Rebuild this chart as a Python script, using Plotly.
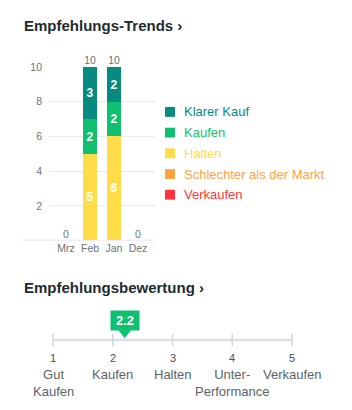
import plotly.graph_objects as go

months = ["Mrz", "Feb", "Jan", "Dez"]
series_names = ["Klarer Kauf", "Kaufen", "Halten", "Schlechter als der Markt", "Verkaufen"]
series_colors = ["#078a80", "#0fc070", "#ffdc48", "#ffa33f", "#ff333a"]
klarer_kauf = [0, 3, 2, 0]
kaufen = [0, 2, 2, 0]
halten = [0, 5, 6, 0]
schlechter = [0, 0, 0, 0]
verkaufen = [0, 0, 0, 0]
series_values = [klarer_kauf, kaufen, halten, schlechter, verkaufen]
totals = [sum(v) for v in zip(*series_values)]

rating_ticks = [1, 2, 3, 4, 5]
rating_labels = ["Gut<br>Kaufen", "Kaufen", "Halten", "Unter-<br>Performance", "Verkaufen"]
rating_value = 2.2

W, H = 352, 410
FONT = "Liberation Sans"
GRAY = "#6b737b"

fig = go.Figure()

# stacked bars, bottom to top
for name, color, vals in reversed(list(zip(series_names, series_colors, series_values))):
    fig.add_trace(go.Bar(
        x=months, y=vals, name=name, marker=dict(color=color, line=dict(width=0)),
        width=0.58,
        text=[f"<b>{v}</b>" if v > 0 else "" for v in vals],
        textposition="inside", insidetextanchor="middle", constraintext="none",
        textfont=dict(color="white", size=12, family=FONT),
        hoverinfo="skip", showlegend=False,
    ))

fig.add_trace(go.Scatter(
    x=months, y=totals, mode="text", text=[str(t) for t in totals],
    textposition="top center", textfont=dict(color=GRAY, size=10.5, family=FONT),
    cliponaxis=False, showlegend=False, hoverinfo="skip",
))

# rating scale
fig.add_trace(go.Scatter(
    x=[rating_ticks[0], rating_ticks[-1]], y=[339, 339], mode="lines",
    line=dict(color="#dcdfe4", width=2.5), xaxis="x2", yaxis="y2",
    showlegend=False, hoverinfo="skip",
))
fig.add_trace(go.Scatter(
    x=rating_ticks, y=[339] * len(rating_ticks), mode="markers",
    marker=dict(symbol="line-ns", size=9, line=dict(color="#d3d6db", width=1.5)),
    xaxis="x2", yaxis="y2", showlegend=False, hoverinfo="skip",
))
fig.add_trace(go.Scatter(
    x=[rating_value], y=[331.5], mode="markers",
    marker=dict(symbol="triangle-down", size=11, color="#0fc070"),
    xaxis="x2", yaxis="y2", showlegend=False, hoverinfo="skip",
))

annotations = [
    dict(text="<b>Empfehlungs-Trends ›</b>", x=22 / W, y=1 - 20 / H, xref="paper", yref="paper",
         xanchor="left", yanchor="middle", showarrow=False,
         font=dict(size=15, color="#232a31", family=FONT)),
    dict(text="<b>Empfehlungsbewertung ›</b>", x=22 / W, y=1 - 286 / H, xref="paper", yref="paper",
         xanchor="left", yanchor="middle", showarrow=False,
         font=dict(size=15, color="#232a31", family=FONT)),
    dict(text=f"<b>{rating_value}</b>", x=rating_value, y=319.5, xref="x2", yref="y2",
         xanchor="center", yanchor="middle", showarrow=False, width=28, height=19,
         bgcolor="#0fc070", borderpad=0, font=dict(size=13, color="white", family=FONT)),
]
shapes = [
    dict(type="line", xref="paper", yref="y", x0=22 / W, x1=155 / W, y0=0, y1=0,
         line=dict(color="#dcdfe3", width=1.5), layer="above"),
]

# manual legend
for i, (name, color) in enumerate(zip(series_names, series_colors)):
    cy = 107.5 + 21 * i
    shapes.append(dict(type="rect", xref="paper", yref="paper",
                       x0=165 / W, x1=175 / W, y0=1 - (cy + 5) / H, y1=1 - (cy - 5) / H,
                       fillcolor=color, line=dict(width=0)))
    annotations.append(dict(text=name, x=182 / W, y=1 - cy / H, xref="paper", yref="paper",
                            xanchor="left", yanchor="middle", showarrow=False,
                            font=dict(size=13, color=color, family=FONT)))

for t, lab in zip(rating_ticks, rating_labels):
    annotations.append(dict(text=str(t), x=t, y=357, xref="x2", yref="y2", xanchor="center",
                            yanchor="middle", showarrow=False,
                            font=dict(size=11, color="#464e56", family=FONT)))
    annotations.append(dict(text=lab, x=t, y=364, xref="x2", yref="y2", xanchor="center",
                            yanchor="top", showarrow=False,
                            font=dict(size=13, color="#5b636a", family=FONT)))

fig.update_layout(
    width=W, height=H, margin=dict(l=0, r=0, t=0, b=0),
    paper_bgcolor="white", plot_bgcolor="white",
    barmode="stack", bargap=0, showlegend=False,
    font=dict(family=FONT, color=GRAY),
    xaxis=dict(domain=[49 / W, 155 / W], range=[-0.71, 3.71], type="category",
               showgrid=False, zeroline=False, showline=False, ticks="",
               tickfont=dict(size=10.5, color=GRAY, family=FONT), fixedrange=True),
    yaxis=dict(domain=[1 - 238 / H, 1 - 62 / H], range=[0, 10], tickvals=[2, 4, 6, 8, 10],
               showgrid=True, gridcolor="#e9ebee", gridwidth=1, zeroline=False, showline=False,
               ticks="", ticklabelstandoff=6,
               tickfont=dict(size=10.5, color=GRAY, family=FONT), fixedrange=True),
    xaxis2=dict(domain=[23.125 / W, 321.875 / W], range=[0.5, 5.5], visible=False,
                anchor="y2", fixedrange=True),
    yaxis2=dict(domain=[1 - 405 / H, 1 - 300 / H], range=[405, 300], visible=False,
                anchor="x2", fixedrange=True),
    annotations=annotations, shapes=shapes,
)

fig.write_html("out.html", config={"displayModeBar": False})
